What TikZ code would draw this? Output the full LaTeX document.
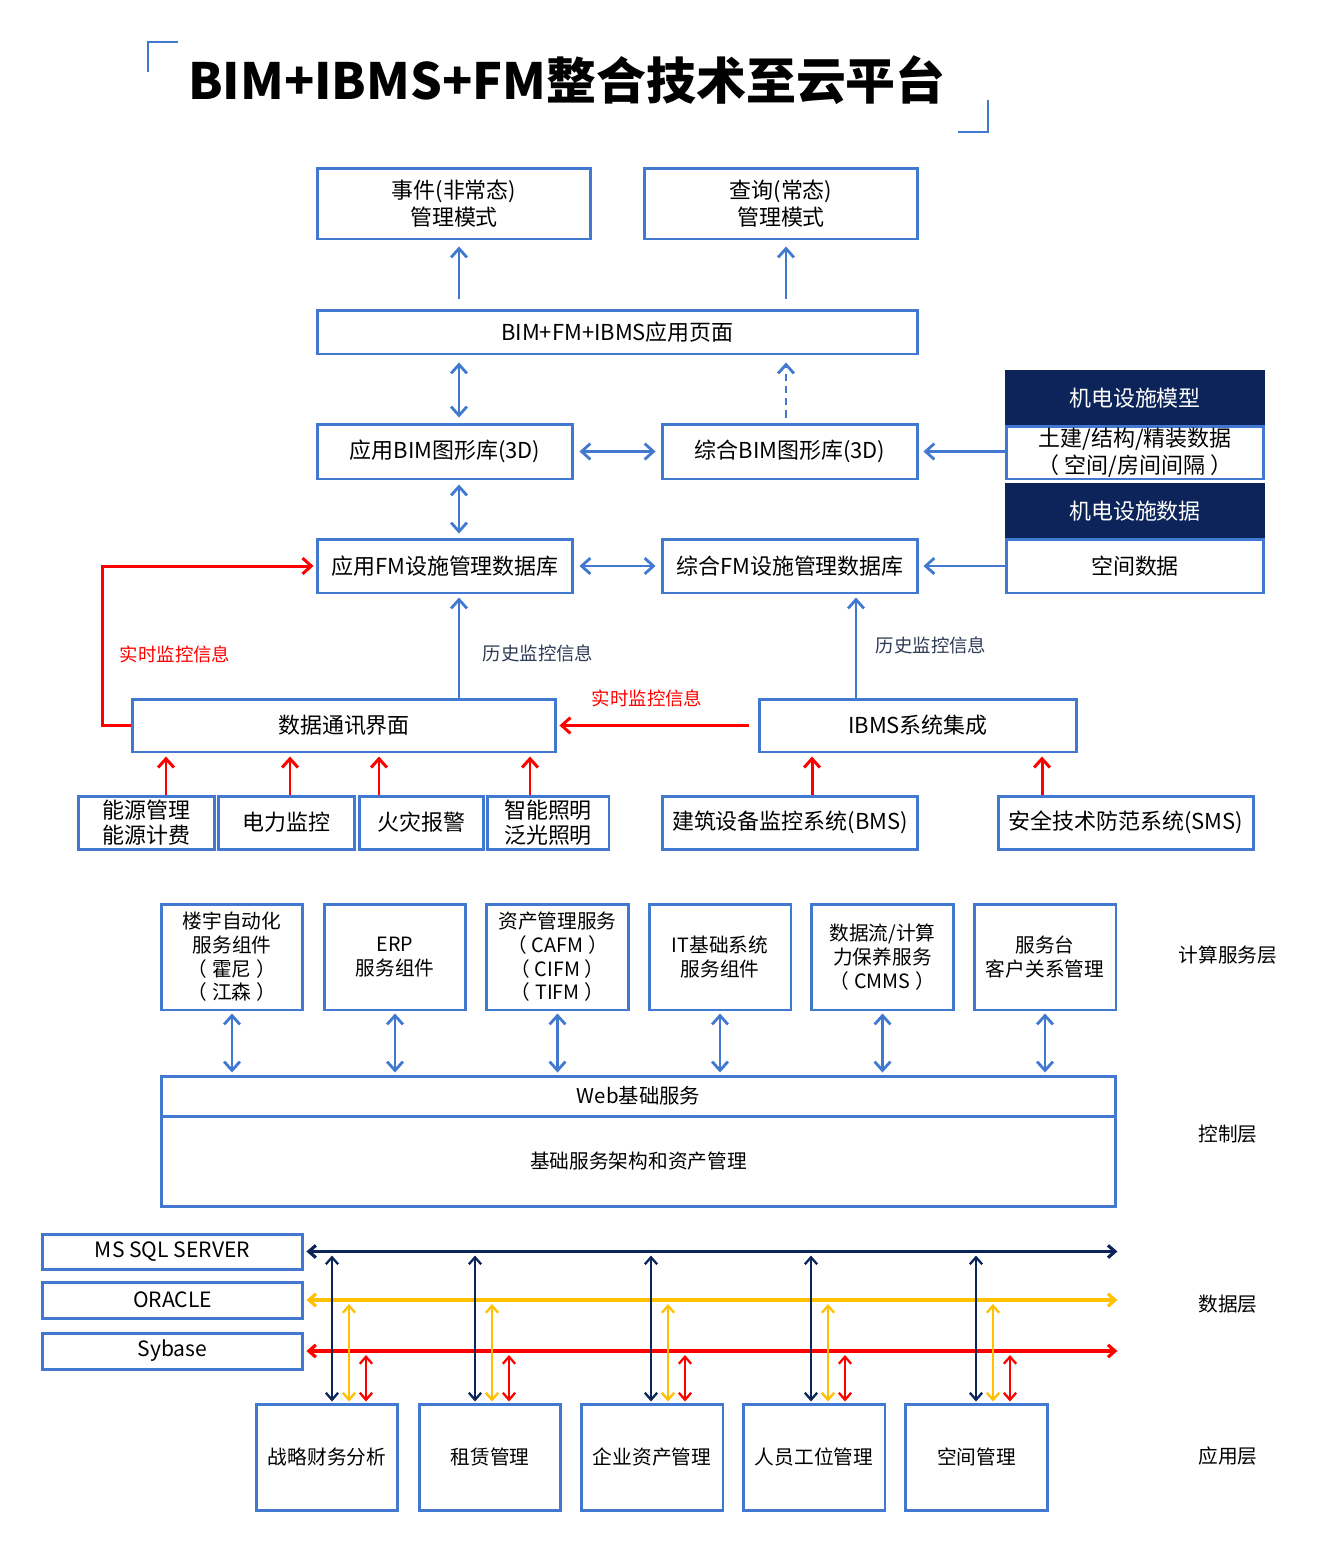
\documentclass[tikz,border=0pt]{standalone}
\usepackage{fontspec}
\setmainfont{Noto Sans CJK SC}
\usetikzlibrary{arrows.meta}
\definecolor{bimblue}{HTML}{4179D0}
\definecolor{bimnavy}{HTML}{0C2459}
\definecolor{bimred}{HTML}{FF0000}
\definecolor{bimyellow}{HTML}{FFC000}
\definecolor{bimtext}{HTML}{2E3B55}
\newcommand{\pgap}{\hspace{0.25em}}
\tikzset{
	bimtip/.tip={Straight Barb[length=5pt,width=9pt]},
	dbtip/.tip={Straight Barb[length=4pt,width=7pt]},
	box/.style={draw=bimblue, line width=1.7pt, fill=white, align=center, inner sep=1pt, font=\fontsize{12.5}{15.4}\selectfont},
	hbox/.style={box, draw=bimnavy, fill=bimnavy, text=white},
	sbox/.style={box, font=\fontsize{11.2}{13.5}\selectfont},
	layer/.style={font=\fontsize{11.2}{13.5}\selectfont},
	note/.style={font=\fontsize{10.5}{12}\selectfont, text=bimtext},
	rednote/.style={note, text=bimred},
	barr/.style={draw=bimblue, line width=1.6pt, -{bimtip}},
	bbarr/.style={draw=bimblue, line width=1.6pt, {bimtip}-{bimtip}},
	rarr/.style={draw=bimred, line width=1.7pt, -{bimtip}},
	navarr/.style={draw=bimnavy, line width=#1, {dbtip}-{dbtip}},
	yelarr/.style={draw=bimyellow, line width=#1, {dbtip}-{dbtip}},
	redarr/.style={draw=bimred, line width=#1, {dbtip}-{dbtip}},
	gap/.style 2 args={shorten <=#1, shorten >=#2}
}

\begin{document}
\begin{tikzpicture}[x=0.02cm, y=-0.02cm]
	%%%%% START %%%%%
	\useasboundingbox (0,0) rectangle (1330,1559);
	
	% title
	\draw[line width=0.9pt, color=bimblue] (148,72) -- (148,42) -- (178,42);
	\draw[line width=0.9pt, color=bimblue] (958,132) -- (988,132) -- (988,100);
	\node[font=\fontsize{28.4}{32}\bfseries] (title) at (567,80) {BIM+IBMS+FM整合技术至云平台};
	
	% upper boxes
	\node[box, minimum width=5.48cm, minimum height=1.42cm] (evt) at (454,203.5) {事件(非常态)\\管理模式};
	\node[box, minimum width=5.48cm, minimum height=1.42cm] (qry) at (781,203.5) {查询(常态)\\管理模式};
	\node[box, minimum width=12.02cm, minimum height=0.88cm] (page) at (617.5,332) {BIM+FM+IBMS应用页面};
	\node[box, minimum width=5.12cm, minimum height=1.1cm] (bimA) at (445,451.5) {应用BIM图形库(3D)};
	\node[box, minimum width=5.12cm, minimum height=1.1cm] (bimZ) at (790,451.5) {综合BIM图形库(3D)};
	\node[box, minimum width=5.12cm, minimum height=1.08cm] (fmA) at (445,566) {应用FM设施管理数据库};
	\node[box, minimum width=5.12cm, minimum height=1.08cm] (fmZ) at (790,566) {综合FM设施管理数据库};
	
	\node[hbox, minimum width=5.16cm, minimum height=1.1cm] (mdlH) at (1135,398.5) {机电设施模型};
	\node[box, minimum width=5.16cm, minimum height=1.06cm] (mdl) at (1135,452.5) {土建/结构/精装数据\\（\pgap 空间/房间间隔\pgap ）};
	\node[hbox, minimum width=5.16cm, minimum height=1.1cm] (datH) at (1135,511.5) {机电设施数据};
	\node[box, minimum width=5.16cm, minimum height=1.08cm] (dat) at (1135,566) {空间数据};
	
	\node[box, minimum width=8.48cm, minimum height=1.06cm] (comm) at (344,725.5) {数据通讯界面};
	\node[box, minimum width=6.36cm, minimum height=1.06cm] (ibms) at (918,725.5) {IBMS系统集成};
	
	\node[box, minimum width=2.74cm, minimum height=1.06cm, font=\fontsize{12.5}{14.5}\selectfont] (en) at (146.5,822.5) {能源管理\\能源计费};
	\node[box, minimum width=2.74cm, minimum height=1.06cm] (pw) at (286.5,822.5) {电力监控};
	\node[box, minimum width=2.5cm, minimum height=1.06cm] (fire) at (421.5,822.5) {火灾报警};
	\node[box, minimum width=2.44cm, minimum height=1.06cm, font=\fontsize{12.5}{14.5}\selectfont] (lit) at (548,822.5) {智能照明\\泛光照明};
	\node[box, minimum width=5.12cm, minimum height=1.06cm] (bms) at (790,822.5) {建筑设备监控系统(BMS)};
	\node[box, minimum width=5.12cm, minimum height=1.06cm] (sms) at (1126,822.5) {安全技术防范系统(SMS)};
	
	% arrow columns
	\coordinate (colA) at (459,0);
	\coordinate (colB) at (786,0);
	\coordinate (colC) at (856,0);
	\coordinate (e1) at (166,0);
	\coordinate (e2) at (290,0);
	\coordinate (e3) at (379,0);
	\coordinate (e4) at (530,0);
	\coordinate (e5) at (812,0);
	\coordinate (e6) at (1042,0);
	
	\draw[barr, gap={0.2cm}{0.12cm}] (colA |- page.north) -- (colA |- evt.south);
	\draw[barr, gap={0.2cm}{0.12cm}] (colB |- page.north) -- (colB |- qry.south);
	\draw[bbarr, gap={0.14cm}{0.1cm}] (colA |- page.south) -- (colA |- bimA.north);
	\draw[barr, dash pattern=on 4pt off 3pt, gap={0.1cm}{0.14cm}] (colB |- bimZ.north) -- (colB |- page.south);
	\draw[bbarr, gap={0.1cm}{0.1cm}] (bimA.east) -- (bimZ.west);
	\draw[barr, gap={0cm}{0.08cm}] (mdl.west |- bimZ) -- (bimZ.east);
	\draw[bbarr, gap={0.08cm}{0.08cm}] (colA |- bimA.south) -- (colA |- fmA.north);
	\draw[bbarr, gap={0.1cm}{0.1cm}] (fmA.east) -- (fmZ.west);
	\draw[barr, gap={0cm}{0.08cm}] (dat.west) -- (fmZ.east);
	\draw[barr, gap={0cm}{0.06cm}] (colA |- comm.north) -- (colA |- fmA.south);
	\draw[barr, gap={0cm}{0.06cm}] (colC |- ibms.north) -- (colC |- fmZ.south);
	
	\draw[rarr, gap={0cm}{0.04cm}] (comm.west) -- ++(-28,0) |- (fmA.west);
	\draw[rarr, gap={0.18cm}{0.04cm}] (ibms.west) -- (comm.east);
	\draw[rarr, gap={0cm}{0.06cm}] (e1 |- en.north) -- (e1 |- comm.south);
	\draw[rarr, gap={0cm}{0.06cm}] (e2 |- pw.north) -- (e2 |- comm.south);
	\draw[rarr, gap={0cm}{0.06cm}] (e3 |- fire.north) -- (e3 |- comm.south);
	\draw[rarr, gap={0cm}{0.06cm}] (e4 |- lit.north) -- (e4 |- comm.south);
	\draw[rarr, gap={0cm}{0.06cm}] (e5 |- bms.north) -- (e5 |- ibms.south);
	\draw[rarr, gap={0cm}{0.06cm}] (e6 |- sms.north) -- (e6 |- ibms.south);
	
	\node[rednote] (rt1) at (175,654) {实时监控信息};
	\node[note] (hs1) at (538,653) {历史监控信息};
	\node[note] (hs2) at (931,645) {历史监控信息};
	\node[rednote] (rt2) at (647,698) {实时监控信息};
	
	% computing layer
	\node[sbox, minimum width=2.84cm, minimum height=2.12cm] (s1) at (232,957) {楼宇自动化\\服务组件\\（\pgap 霍尼\pgap ）\\（\pgap 江森\pgap ）};
	\node[sbox, minimum width=2.84cm, minimum height=2.12cm] (s2) at (395,957) {ERP\\服务组件};
	\node[sbox, minimum width=2.84cm, minimum height=2.12cm] (s3) at (557.5,957) {资产管理服务\\（\pgap CAFM\pgap ）\\（\pgap CIFM\pgap ）\\（\pgap TIFM\pgap ）};
	\node[sbox, minimum width=2.84cm, minimum height=2.12cm] (s4) at (720,957) {IT基础系统\\服务组件};
	\node[sbox, minimum width=2.84cm, minimum height=2.12cm] (s5) at (882.5,957) {数据流/计算\\力保养服务\\（\pgap CMMS\pgap ）};
	\node[sbox, minimum width=2.84cm, minimum height=2.12cm] (s6) at (1045,957) {服务台\\客户关系管理};
	
	\node[sbox, minimum width=19.1cm, minimum height=0.8cm, font=\fontsize{11.6}{13.5}\selectfont] (web) at (638.5,1096) {Web基础服务};
	\node[sbox, minimum width=19.1cm, minimum height=1.8cm] (base) at (638.5,1161) {基础服务架构和资产管理};
	
	\draw[bbarr, gap={0.04cm}{0.04cm}] (s1.south) -- (s1.south |- web.north);
	\draw[bbarr, gap={0.04cm}{0.04cm}] (s2.south) -- (s2.south |- web.north);
	\draw[bbarr, gap={0.04cm}{0.04cm}] (s3.south) -- (s3.south |- web.north);
	\draw[bbarr, gap={0.04cm}{0.04cm}] (s4.south) -- (s4.south |- web.north);
	\draw[bbarr, gap={0.04cm}{0.04cm}] (s5.south) -- (s5.south |- web.north);
	\draw[bbarr, gap={0.04cm}{0.04cm}] (s6.south) -- (s6.south |- web.north);
	
	% data layer
	\node[sbox, minimum width=5.22cm, minimum height=0.7cm, font=\fontsize{12}{13.5}\selectfont] (ms) at (172.5,1251.5) {MS SQL SERVER};
	\node[sbox, minimum width=5.22cm, minimum height=0.72cm, font=\fontsize{12}{13.5}\selectfont] (ora) at (172.5,1300) {ORACLE};
	\node[sbox, minimum width=5.22cm, minimum height=0.72cm, font=\fontsize{12}{13.5}\selectfont] (syb) at (172.5,1351) {Sybase};
	
	\node[sbox, minimum width=2.84cm, minimum height=2.12cm] (a1) at (327,1457) {战略财务分析};
	\node[sbox, minimum width=2.84cm, minimum height=2.12cm] (a2) at (490,1457) {租赁管理};
	\node[sbox, minimum width=2.84cm, minimum height=2.12cm] (a3) at (652,1457) {企业资产管理};
	\node[sbox, minimum width=2.84cm, minimum height=2.12cm] (a4) at (814,1457) {人员工位管理};
	\node[sbox, minimum width=2.84cm, minimum height=2.12cm] (a5) at (976.5,1457) {空间管理};
	
	\draw[navarr=1.8pt, gap={0.04cm}{0cm}] (ms.east) -- (ms.east -| web.east);
	\draw[yelarr=1.8pt, gap={0.04cm}{0cm}] (ora.east) -- (ora.east -| web.east);
	\draw[redarr=1.8pt, gap={0.04cm}{0cm}] (syb.east) -- (syb.east -| web.east);
	
	\coordinate (n1) at (332,0);
	\coordinate (n2) at (475,0);
	\coordinate (n3) at (651,0);
	\coordinate (n4) at (811,0);
	\coordinate (n5) at (976,0);
	\coordinate (y1) at (349,0);
	\coordinate (y2) at (492,0);
	\coordinate (y3) at (668,0);
	\coordinate (y4) at (828,0);
	\coordinate (y5) at (993,0);
	\coordinate (r1) at (366,0);
	\coordinate (r2) at (509,0);
	\coordinate (r3) at (685,0);
	\coordinate (r4) at (845,0);
	\coordinate (r5) at (1010,0);
	
	\draw[navarr=1.3pt, gap={0.08cm}{0.02cm}] (n1 |- ms.east) -- (n1 |- a1.north);
	\draw[navarr=1.3pt, gap={0.08cm}{0.02cm}] (n2 |- ms.east) -- (n2 |- a2.north);
	\draw[navarr=1.3pt, gap={0.08cm}{0.02cm}] (n3 |- ms.east) -- (n3 |- a3.north);
	\draw[navarr=1.3pt, gap={0.08cm}{0.02cm}] (n4 |- ms.east) -- (n4 |- a4.north);
	\draw[navarr=1.3pt, gap={0.08cm}{0.02cm}] (n5 |- ms.east) -- (n5 |- a5.north);
	\draw[yelarr=1.3pt, gap={0.08cm}{0.02cm}] (y1 |- ora.east) -- (y1 |- a1.north);
	\draw[yelarr=1.3pt, gap={0.08cm}{0.02cm}] (y2 |- ora.east) -- (y2 |- a2.north);
	\draw[yelarr=1.3pt, gap={0.08cm}{0.02cm}] (y3 |- ora.east) -- (y3 |- a3.north);
	\draw[yelarr=1.3pt, gap={0.08cm}{0.02cm}] (y4 |- ora.east) -- (y4 |- a4.north);
	\draw[yelarr=1.3pt, gap={0.08cm}{0.02cm}] (y5 |- ora.east) -- (y5 |- a5.north);
	\draw[redarr=1.3pt, gap={0.08cm}{0.02cm}] (r1 |- syb.east) -- (r1 |- a1.north);
	\draw[redarr=1.3pt, gap={0.08cm}{0.02cm}] (r2 |- syb.east) -- (r2 |- a2.north);
	\draw[redarr=1.3pt, gap={0.08cm}{0.02cm}] (r3 |- syb.east) -- (r3 |- a3.north);
	\draw[redarr=1.3pt, gap={0.08cm}{0.02cm}] (r4 |- syb.east) -- (r4 |- a4.north);
	\draw[redarr=1.3pt, gap={0.08cm}{0.02cm}] (r5 |- syb.east) -- (r5 |- a5.north);
	
	% layer names
	\node[layer] (l1) at (1228,955) {计算服务层};
	\node[layer] (l2) at (1228,1134) {控制层};
	\node[layer] (l3) at (1228,1304) {数据层};
	\node[layer] (l4) at (1228,1456) {应用层};
	
	%%%%% END %%%%%
\end{tikzpicture}
\end{document}
